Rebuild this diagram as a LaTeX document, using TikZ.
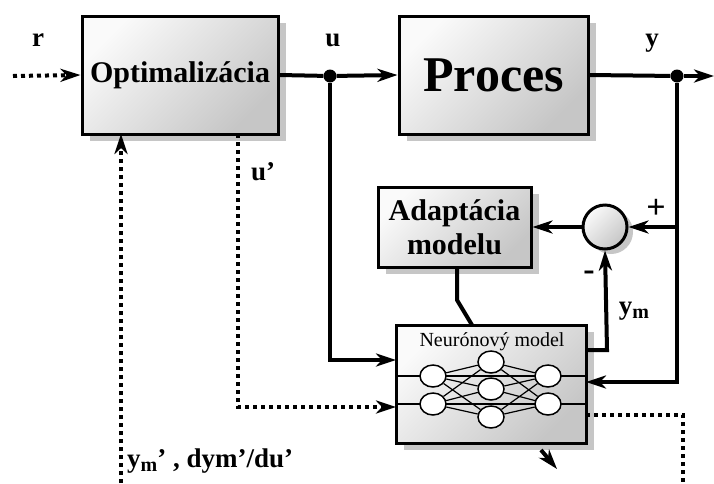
\documentclass[tikz,border=0pt]{standalone}
\usepackage{fontspec}
\setmainfont{Liberation Serif}
\usetikzlibrary{arrows.meta,shadows,calc,shapes.geometric}
\newcommand{\lowsub}[1]{\raisebox{-0.35ex}{\fontsize{20}{20}\selectfont #1}}
\begin{document}
\begin{tikzpicture}[x=1pt,y=-1pt,
  blk/.style={draw=black, line width=3pt, shading=axis, top color=gray!4, bottom color=gray!45, shading angle=45,
    drop shadow={shadow xshift=8pt, shadow yshift=-7pt, fill=gray!45, opacity=1},
    inner sep=0pt, align=center, font=\bfseries},
  conn/.style={line width=4pt},
  arr/.style={-{Stealth[length=20pt,width=13pt,inset=6pt]}},
  dots/.style={line width=4pt, dash pattern=on 4pt off 4pt},
  jdot/.style={circle, fill=black, inner sep=0pt, minimum size=13pt},
  lbl/.style={font=\fontsize{27}{27}\selectfont\bfseries, inner sep=0pt},
  neuron/.style={ellipse, draw=black, line width=1.5pt, fill=white, minimum width=26pt, minimum height=22pt, inner sep=0pt},
  nlink/.style={line width=1.2pt}
]
\useasboundingbox (0,0) rectangle (714,483);

% blocks
\node[blk, minimum width=196pt, minimum height=118pt, font=\fontsize{30}{30}\selectfont\bfseries] (opt) at (180,75) {Optimalizácia};
\node[blk, minimum width=189pt, minimum height=118pt, font=\fontsize{50}{50}\selectfont\bfseries] (proc) at (493.5,75) {Proces};
\node[blk, minimum width=153pt, minimum height=80pt, font=\fontsize{30}{34}\selectfont\bfseries] (adapt) at (454.5,227) {Adaptácia\\modelu};
\node[circle, draw=black, line width=3pt, shading=axis, top color=gray!4, bottom color=gray!45, shading angle=45,
    drop shadow={shadow xshift=6pt, shadow yshift=-5pt, fill=gray!45, opacity=1},
    minimum size=44pt, inner sep=0pt] (sum) at (605,227) {};
\node[blk, minimum width=190pt, minimum height=118pt] (nn) at (491,384) {};
\node[inner sep=0pt, font=\fontsize{20}{20}\selectfont] (nntxt) at (492,342) {Neurónový model};

% neural net inside
\coordinate (l1a) at (396,376); \coordinate (l1b) at (586,376);
\coordinate (l2a) at (396,404); \coordinate (l2b) at (586,404);
\draw[nlink] (l1a) -- (l1b);
\draw[nlink] (l2a) -- (l2b);
\node[neuron] (i1) at (433,376) {};
\node[neuron] (i2) at (433,404) {};
\node[neuron] (h1) at (491,362) {};
\node[neuron] (h2) at (491,389) {};
\node[neuron] (h3) at (491,417) {};
\node[neuron] (o1) at (548,376) {};
\node[neuron] (o2) at (548,404) {};
\foreach \a in {i1,i2}{\foreach \b in {h1,h2,h3}{\draw[nlink] (\a) -- (\b);}}
\foreach \a in {h1,h2,h3}{\foreach \b in {o1,o2}{\draw[nlink] (\a) -- (\b);}}

% junctions and coordinates
\node[jdot] (ju) at (330,76) {};
\node[jdot] (jy) at (677,76) {};
\coordinate (rin) at (13,76);
\coordinate (yout) at (714,76);
\coordinate (ucorner) at (330,360);
\coordinate (nnin1) at (396,360);
\coordinate (upcorner) at (238,407);
\coordinate (nnin2) at (396,407);
\coordinate (optbot) at (238,134);
\coordinate (optin) at (121,134);
\coordinate (bottomin) at (121,483);
\coordinate (ysplit) at (677,227);
\coordinate (ycorner) at (677,382);
\coordinate (nnin3) at (586,382);
\coordinate (nnout) at (586,350);
\coordinate (ymcorner) at (607,350);
\coordinate (adbot) at (457,267);
\coordinate (adbend) at (457,300);
\coordinate (nntop) at (472,325);
\coordinate (tuneA) at (541,450);
\coordinate (tuneB) at (557,469);
\coordinate (nnout2) at (586,415);
\coordinate (dcorner) at (683,415);
\coordinate (dend) at (683,483);

% connectors
\draw[dots, arr] (rin) -- (opt.west);
\draw[conn] (opt.east) -- (ju);
\draw[conn, arr] (ju) -- (proc.west);
\draw[conn] (proc.east) -- (jy);
\draw[conn, arr] (jy) -- (yout);
\draw[conn, arr] (ju) -- (ucorner) -- (nnin1);
\draw[dots, arr] (optbot) -- (upcorner) -- (nnin2);
\draw[dots, arr] (bottomin) -- (optin);
\draw[conn, arr] (jy) -- (ycorner) -- (nnin3);
\draw[conn, arr] (ysplit) -- (sum.east);
\draw[conn, arr] (sum.west) -- (adapt.east);
\draw[conn, arr] (nnout) -- (ymcorner) -- (sum.south);
\draw[conn] (adbot) -- (adbend) -- (nntop);
\draw[conn, arr] (tuneA) -- (tuneB);
\draw[dots] (nnout2) -- (dcorner) -- (dend);

% labels
\node[lbl] (lr) at (38,40) {r};
\node[lbl] (lu) at (333,40) {u};
\node[lbl] (ly) at (652,43) {y};
\node[lbl] (lup) at (263,172) {u’};
\node[lbl, font=\fontsize{34}{34}\selectfont\bfseries] (lplus) at (656,209) {+};
\node[lbl, font=\fontsize{34}{34}\selectfont\bfseries] (lminus) at (589,276) {-};
\node[lbl] (lym) at (634,311) {y\lowsub{m}};
\node[lbl, anchor=west] (lder) at (127,461) {y\lowsub{m}’ , dym’/du’};
\end{tikzpicture}
\end{document}
